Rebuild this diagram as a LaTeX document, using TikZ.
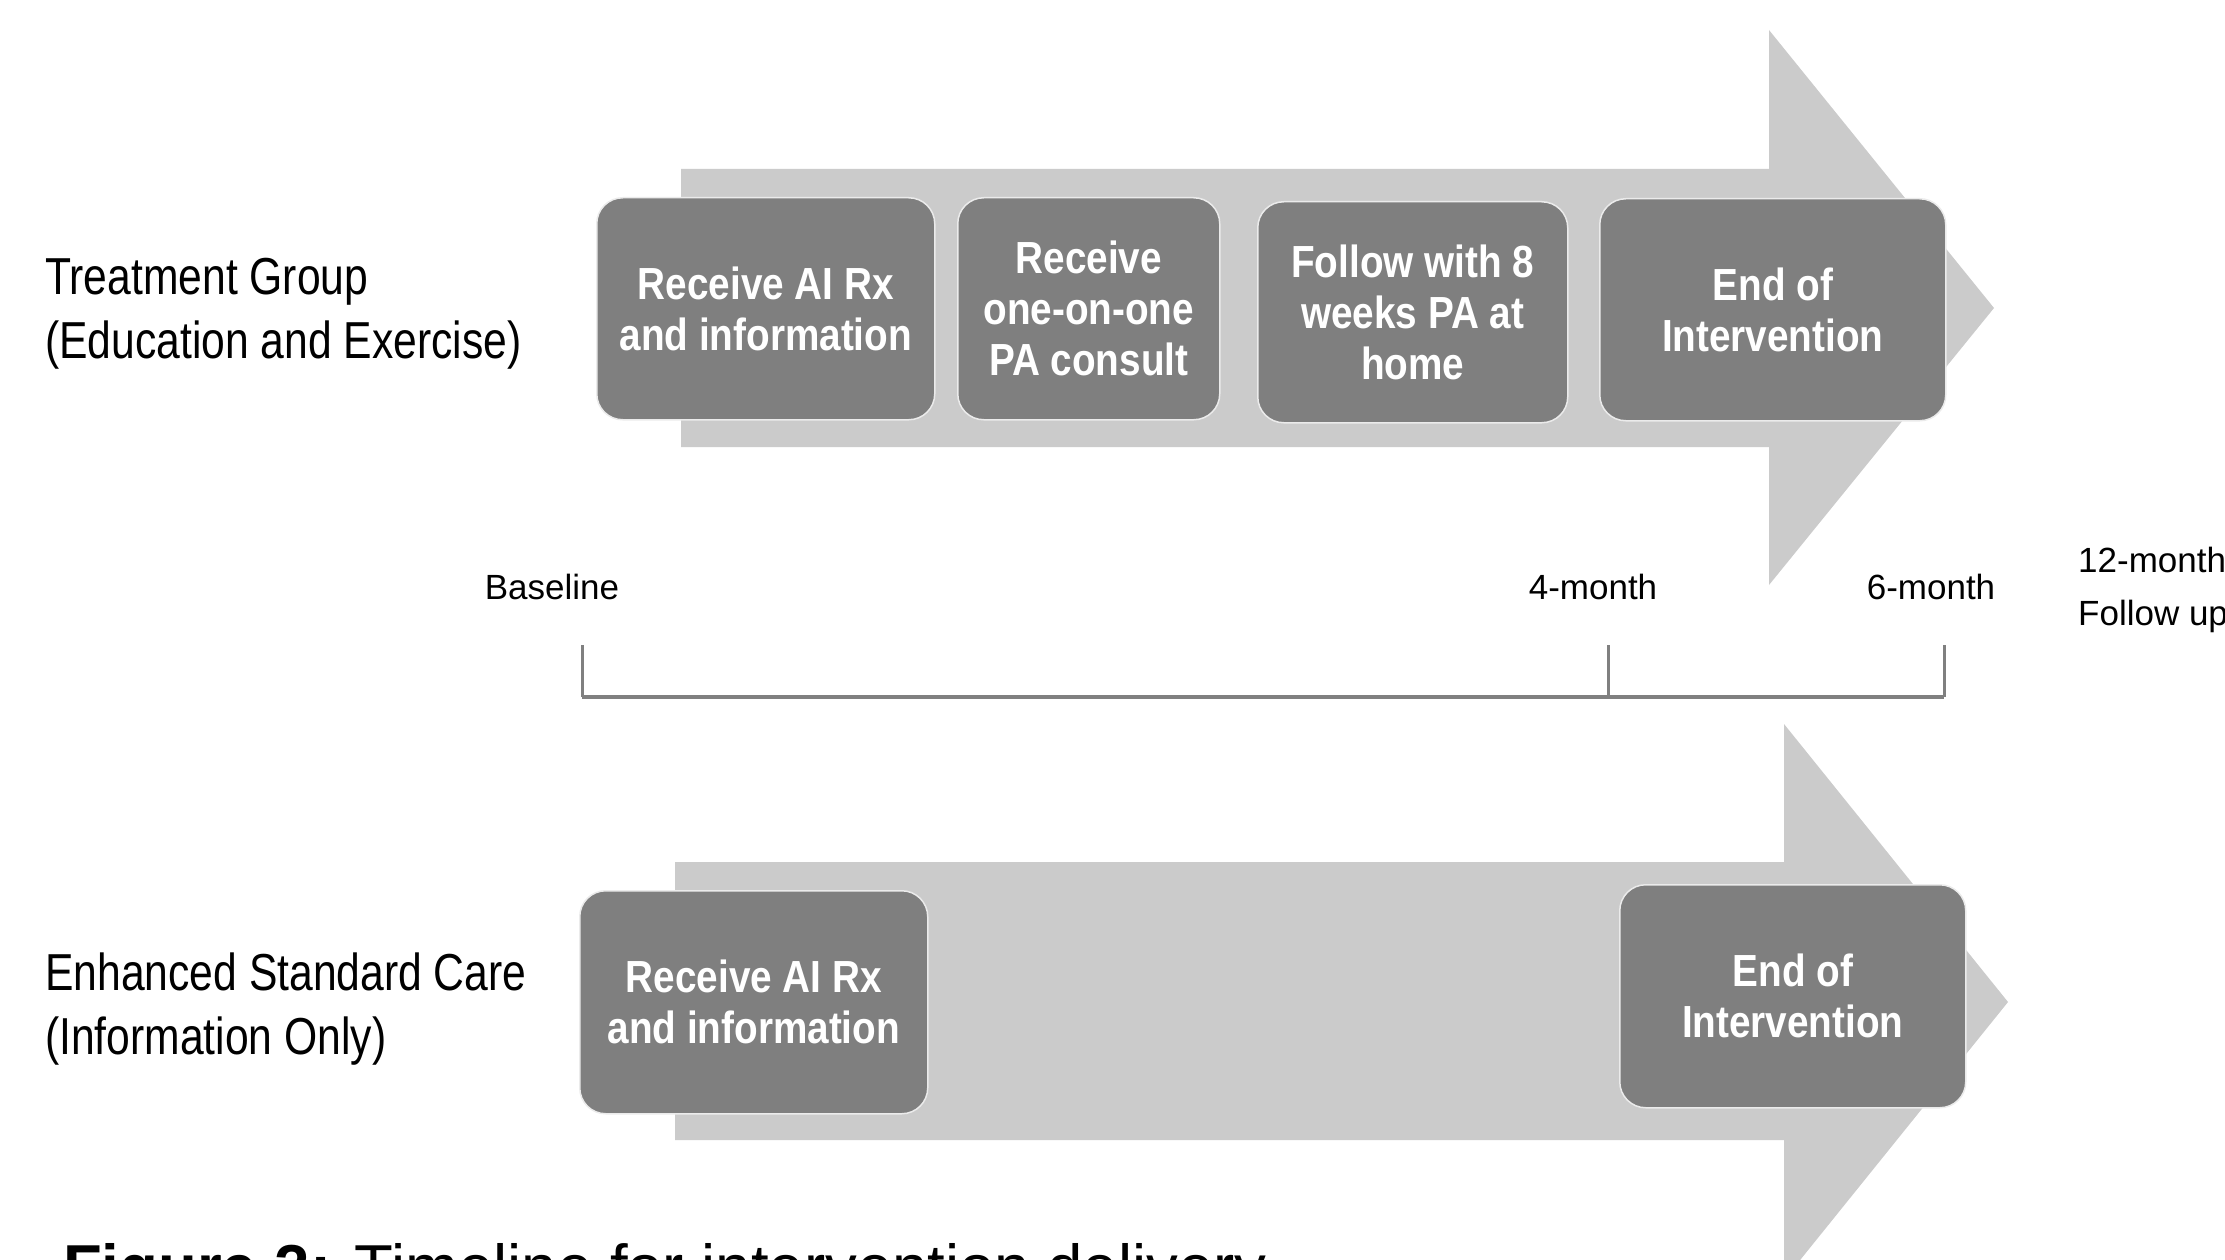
\documentclass[tikz,border=0pt]{standalone}
\usepackage{fontspec}
\setmainfont{Liberation Sans}
\newfontfamily\groupfont{Liberation Sans}[FakeStretch=0.82]
\newfontfamily\boxfont{Liberation Sans}[FakeStretch=0.86]
\definecolor{arrowgray}{RGB}{203,203,203}
\definecolor{boxgray}{RGB}{127,127,127}
\definecolor{linegray}{RGB}{128,128,128}
\definecolor{boxedge}{RGB}{235,235,235}
\begin{document}
\begin{tikzpicture}[x=1pt,y=-1pt,
  stepbox/.style={draw=boxedge, line width=1.5pt, fill=boxgray, rounded corners=26pt,
    text=white, font=\boxfont\bfseries\fontsize{45}{51}\selectfont, align=center,
    inner sep=0pt, anchor=north west},
  grouplabel/.style={font=\groupfont\fontsize{52}{64}\selectfont, align=left, inner sep=0pt, anchor=base west},
  timelabel/.style={font=\fontsize{35}{53}\selectfont, inner sep=0pt, anchor=base},
  bigarrow/.style={fill=arrowgray},
  timeline/.style={draw=linegray, line width=4pt},
  tickline/.style={draw=linegray, line width=3pt}]
\useasboundingbox (0,0) rectangle (2225,1260);
\clip (0,0) rectangle (2225,1260);

% big arrows
\fill[bigarrow] (681,169) -- (1769,169) -- (1769,30) -- (1994,308) -- (1769,585) -- (1769,447) -- (681,447) -- cycle;
\fill[bigarrow] (675,862) -- (1784,862) -- (1784,724) -- (2008,1002) -- (1784,1280) -- (1784,1140) -- (675,1140) -- cycle;

% group labels (base anchor = baseline of the last line)
\node[grouplabel] (tg) at (45,358) {Treatment Group\\(Education and Exercise)};
\node[grouplabel] (esc) at (45,1054) {Enhanced Standard Care\\(Information Only)};

% treatment boxes
\node[stepbox, minimum width=338pt, minimum height=222pt] (t1) at (596,197) {Receive AI Rx\\and information};
\node[stepbox, minimum width=262pt, minimum height=222pt] (t2) at (957,197) {Receive\\one-on-one\\PA consult};
\node[stepbox, minimum width=310pt, minimum height=221pt] (t3) at (1257,201) {Follow with 8\\weeks PA at\\home};
\node[stepbox, minimum width=346pt, minimum height=222pt] (t4) at (1599,198) {End of\\Intervention};

% standard care boxes
\node[stepbox, minimum width=348pt, minimum height=223pt] (b1) at (579,890) {Receive AI Rx\\and information};
\node[stepbox, minimum width=346pt, minimum height=223pt] (b2) at (1619,884) {End of\\Intervention};

% timeline
\coordinate (tl0) at (582,697);
\coordinate (tl4) at (1608,697);
\coordinate (tl6) at (1944,697);
\coordinate (tk0) at (582,645);
\coordinate (tk4) at (1608,645);
\coordinate (tk6) at (1944,645);
\draw[timeline] (tl0) -- (tl6);
\draw[tickline] (tk0) -- (tl0);
\draw[tickline] (tk4) -- (tl4);
\draw[tickline] (tk6) -- (tl6);

\node[timelabel] (lb0) at (552,599) {Baseline};
\node[timelabel] (lb4) at (1593,599) {4-month};
\node[timelabel] (lb6) at (1931,599) {6-month};
\node[timelabel, align=left, anchor=base west] (lb12) at (2078,625) {12-month\\Follow up};

% caption (cut off by the lower edge, as in the reference)
\node[font=\fontsize{63.5}{76}\selectfont, inner sep=0pt, anchor=base west] (cap) at (63,1289) {\textbf{Figure 2:} Timeline for intervention delivery};
\end{tikzpicture}
\end{document}
